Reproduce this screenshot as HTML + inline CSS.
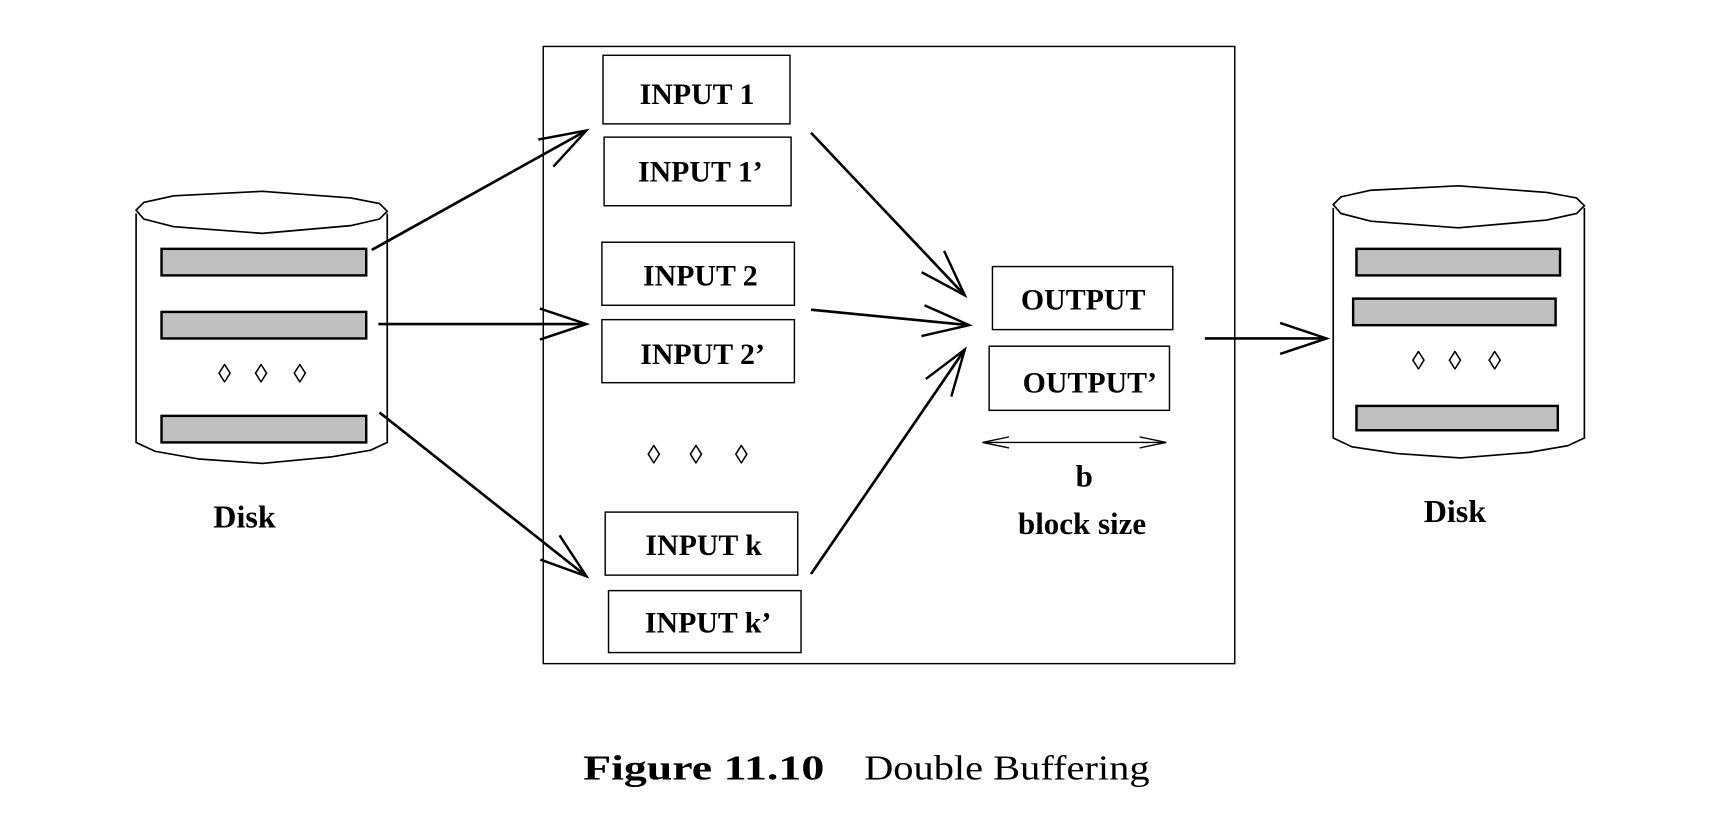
<!DOCTYPE html>
<html><head><meta charset="utf-8"><style>
html,body{margin:0;padding:0;background:#fff;}
svg{display:block;}
text{font-family:"Liberation Serif",serif;font-weight:bold;fill:#000;}
</style></head><body>
<svg width="1726" height="824" viewBox="0 0 1560 745" preserveAspectRatio="none" xmlns="http://www.w3.org/2000/svg">
<defs>
<marker id="ah" markerUnits="userSpaceOnUse" markerWidth="60" markerHeight="40" refX="44" refY="20" orient="auto">
<path d="M2,6 L44,20 L2,34" fill="none" stroke="#000" stroke-width="2.2"/>
</marker>
<marker id="sh" markerUnits="userSpaceOnUse" markerWidth="30" markerHeight="20" refX="26" refY="10" orient="auto-start-reverse">
<path d="M2,5 L26,10 L2,15" fill="none" stroke="#000" stroke-width="1.2"/>
</marker>
</defs>

<rect x="491" y="42" width="625" height="558" fill="none" stroke="#000" stroke-width="1.3"/>

<g fill="none" stroke="#000" stroke-width="1.5">
<path d="M123,190 L130,183 L157,177 L237,173 L317,179 L343,184 L350,191 L343,198 L317,204 L237,211 L157,205 L130,198 Z"/>
<path d="M123,193 L123,400 L140,408 L180,415 L237,419 L300,413 L335,407 L350,400 L350,193"/>
</g>
<g fill="#c0c0c0" stroke="#000" stroke-width="2.2">
<rect x="146" y="225" width="185" height="24"/>
<rect x="146" y="282" width="185" height="24"/>
<rect x="146" y="376" width="185" height="24"/>
</g>
<g font-size="24" text-anchor="middle" style="font-weight:normal">
<text x="203" y="346">◊</text><text x="236" y="346">◊</text><text x="271" y="346">◊</text>
</g>
<text x="221" y="477" font-size="29" text-anchor="middle">Disk</text>

<g fill="none" stroke="#000" stroke-width="1.5">
<path d="M1205,185 L1212,178 L1239,172 L1318,168 L1398,174 L1425,179 L1432,186 L1425,193 L1398,199 L1318,206 L1239,200 L1212,193 Z"/>
<path d="M1205,188 L1205,396 L1222,404 L1262,410 L1320,414 L1382,409 L1417,403 L1432,396 L1432,188"/>
</g>
<g fill="#c0c0c0" stroke="#000" stroke-width="2.2">
<rect x="1226" y="225" width="184" height="24"/>
<rect x="1223" y="270" width="183" height="24"/>
<rect x="1226" y="367" width="182" height="22"/>
</g>
<g font-size="24" text-anchor="middle" style="font-weight:normal">
<text x="1282" y="334">◊</text><text x="1315" y="334">◊</text><text x="1351" y="334">◊</text>
</g>
<text x="1315" y="472" font-size="29" text-anchor="middle">Disk</text>

<g fill="none" stroke="#000" stroke-width="1.3">
<rect x="545" y="50" width="169" height="62"/>
<rect x="546" y="124" width="169" height="62"/>
<rect x="544" y="219" width="174" height="57"/>
<rect x="544" y="289" width="174" height="57"/>
<rect x="547" y="463" width="174" height="57"/>
<rect x="550" y="534" width="174" height="56"/>
<rect x="897" y="241" width="163" height="57"/>
<rect x="894" y="313" width="163" height="58"/>
</g>
<g font-size="27" text-anchor="middle">
<text x="630" y="94">INPUT 1</text>
<text x="633" y="164">INPUT 1’</text>
<text x="633" y="258">INPUT 2</text>
<text x="635" y="329">INPUT 2’</text>
<text x="636" y="502">INPUT k</text>
<text x="640" y="572">INPUT k’</text>
<text x="979" y="280">OUTPUT</text>
<text x="985" y="355">OUTPUT’</text>
</g>
<g font-size="24" text-anchor="middle" style="font-weight:normal">
<text x="591" y="419">◊</text><text x="629" y="419">◊</text><text x="670" y="419">◊</text>
</g>

<line x1="888" y1="400" x2="1054" y2="400" stroke="#000" stroke-width="1.2" marker-start="url(#sh)" marker-end="url(#sh)"/>
<text x="980" y="440" font-size="28" text-anchor="middle">b</text>
<text x="978" y="483" font-size="28" text-anchor="middle">block size</text>

<g stroke="#000" stroke-width="2.4" fill="none" marker-end="url(#ah)">
<line x1="336" y1="226" x2="530" y2="118"/>
<line x1="342" y1="293" x2="530" y2="293"/>
<line x1="343" y1="373" x2="530" y2="521"/>
<line x1="733" y1="120" x2="872" y2="267"/>
<line x1="733" y1="280" x2="876" y2="294"/>
<line x1="733" y1="519" x2="872" y2="316"/>
<line x1="1089" y1="306" x2="1199" y2="306"/>
</g>

<text y="705" font-size="32"><tspan x="527" textLength="218" lengthAdjust="spacingAndGlyphs">Figure 11.10</tspan><tspan x="781" textLength="258" lengthAdjust="spacingAndGlyphs" style="font-weight:normal">Double Buffering</tspan></text>
</svg>
</body></html>
